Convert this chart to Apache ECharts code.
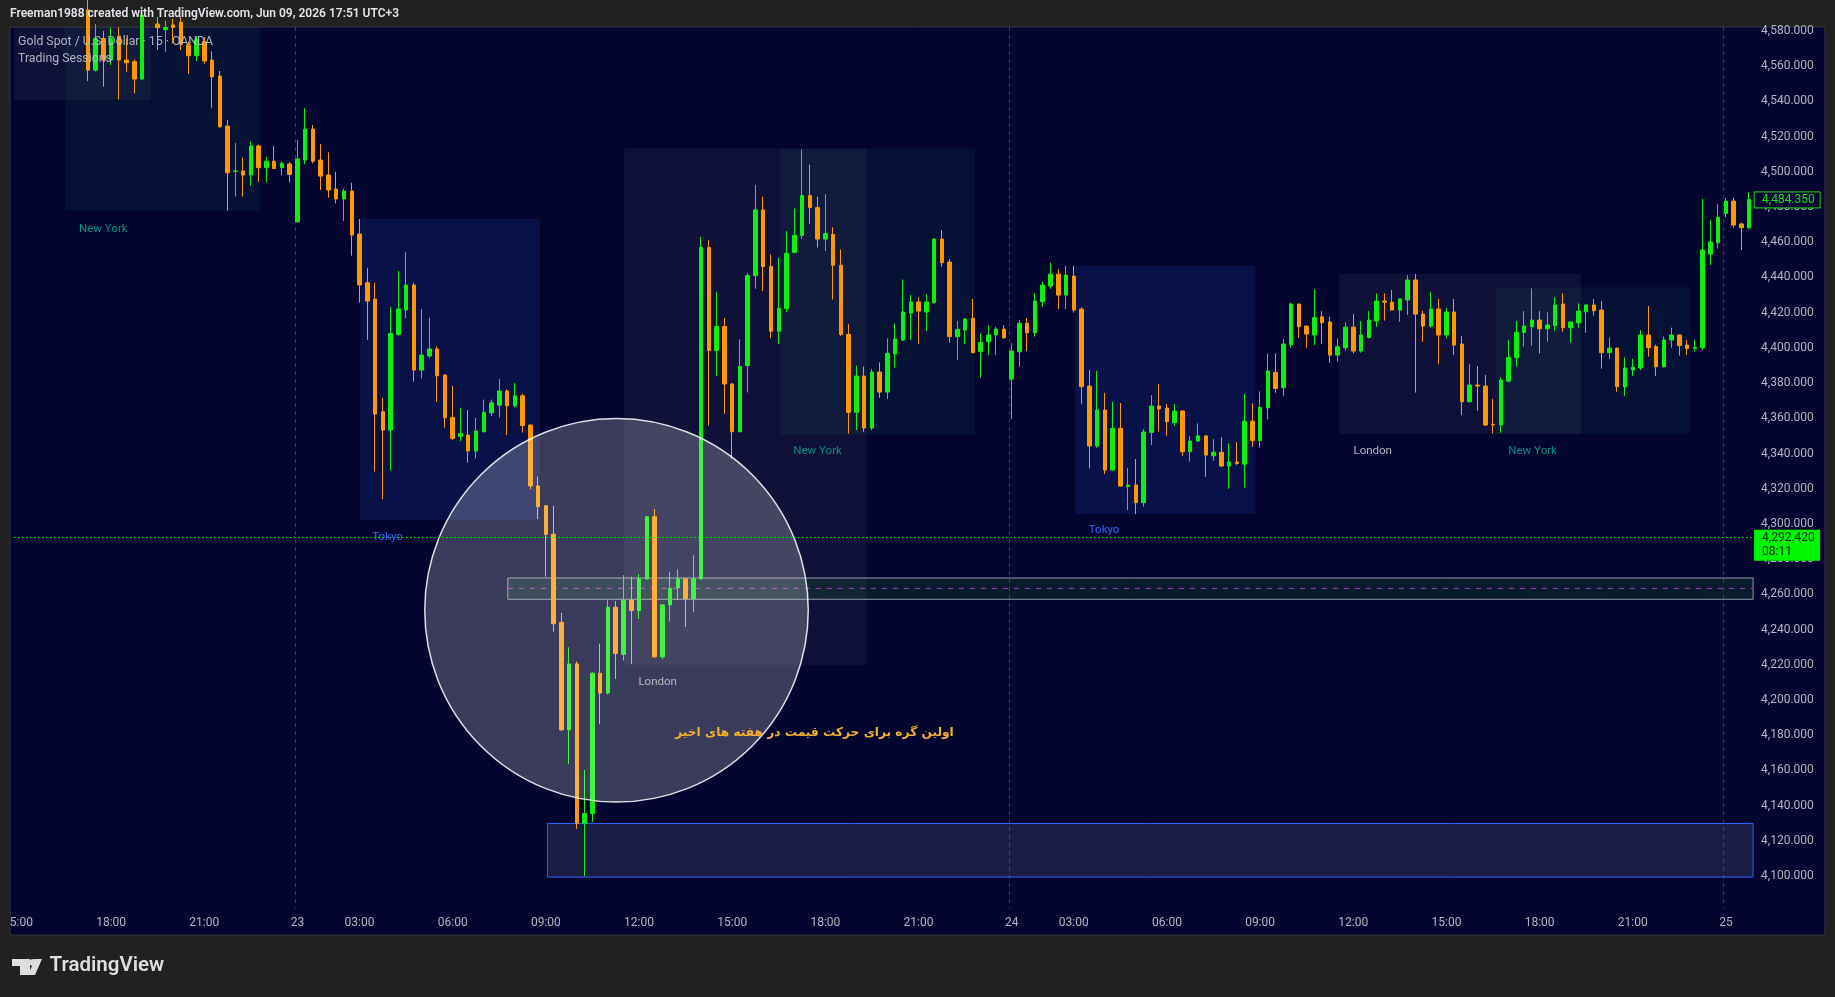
<!DOCTYPE html>
<html><head><meta charset="utf-8">
<script src="https://cdn.jsdelivr.net/npm/echarts@6/dist/echarts.min.js"></script>
<style>html,body{margin:0;padding:0;background:#212121;}#c{width:1835px;height:997px;}</style>
</head><body><div id="c"></div>
<script>
// ---------- DATA ----------
const headerText = 'Freeman1988 created with TradingView.com, Jun 09, 2026 17:51 UTC+3';
const symbolTitle = 'Gold Spot / U.S. Dollar · 15 · OANDA';
const indicatorTitle = 'Trading Sessions';
const annotationText = 'اولین گره برای حرکت قیمت در هفته های اخیر';

// trading days shown (15-minute bars)
const tradingDays = [
  ['22', 15, 23], ['23', 1, 23], ['24', 1, 23], ['25', 1, 1]
];
const tickLabels = {
  '22 15:00':'15:00','22 18:00':'18:00','22 21:00':'21:00',
  '23 01:00':'23','23 03:00':'03:00','23 06:00':'06:00','23 09:00':'09:00','23 12:00':'12:00','23 15:00':'15:00','23 18:00':'18:00','23 21:00':'21:00',
  '24 01:00':'24','24 03:00':'03:00','24 06:00':'06:00','24 09:00':'09:00','24 12:00':'12:00','24 15:00':'15:00','24 18:00':'18:00','24 21:00':'21:00',
  '25 01:00':'25'
};

const opens = [null,null,null,null,null,null,null,null,null,
4592,4557.8,4575.8,4563.5,4577.1,4563.5,4562.6,4552.7,4591,4584.0,4580.8,
4583.5,4585,4572.0,4566.0,4573.9,4563.5,4554.4,4526.0,4500.3,4500.5,
4498.2,4514.7,4502.4,4506.1,4502.4,4504.5,4471.7,4506.7,4524.3,4506.7,
4498.2,4490.2,4484.6,4489.1,4464.7,4437.0,4427.7,4363.7,4353.3,4407.7,
4421.5,4435.7,4387.4,4395.4,4399.4,4384.6,4360.5,4349.8,4350.5,4341.4,
4352.4,4363.1,4367.4,4375.5,4367.1,4372.8,4356.2,4321.6,4310.3,4294.2,
4244.1,4183.0,4220.5,4129.9,4135.5,4215.2,4203.9,4252.7,4225.9,4256.7,
4250.8,4268.8,4304.1,4224.5,4254.0,4263.7,4268.8,4257.5,4268.8,4457.0,
4398.5,4412.2,4379.5,4352.4,4389.9,4441.1,4478.4,4446.2,4409.5,4422.4,
4454.3,4463.9,4486.5,4479.7,4461.8,4464.5,4447.0,4407.6,4363.4,4384.0,
4354.5,4386.3,4374.9,4396.5,4404.5,4419.8,4426.1,4420.4,4425.7,4461.8,
4448.8,4406.4,4410.1,4416.8,4397.9,4403.5,4407.3,4410.7,4382.3,4397.8,
4414.0,4408.6,4426.2,4435.1,4441.9,4430.0,4440.8,4422.1,4378.3,4344.3,
4364.7,4330.6,4354.3,4321.2,4322.1,4312.1,4352.0,4367.0,4365.8,4357.5,
4364.1,4341.0,4347.1,4350.0,4338.7,4340.7,4332.9,4335.2,4334.0,4358.4,
4347.3,4366.0,4386.1,4377.4,4401.8,4424.9,4412.4,4407.3,4417.7,4414.7,
4395.9,4400.1,4411.8,4398.2,4405.9,4415.3,4426.6,4426.0,4421.5,4427.2,
4438.6,4419.2,4412.4,4422.1,4407.3,4420.4,4402.2,4369.4,4378.9,4378.3,
4356.6,4356.2,4381.1,4394.4,4408.8,4412.0,4415.8,4410.9,4412.6,4424.9,
4411.5,4414.3,4420.5,4424.4,4421.5,4397.3,4399.9,4378.0,4387.5,4388.6,
4407.3,4400.7,4389.3,4404.5,4407.3,4401.6,4399.7,4400.1,4453.3,4459.7,
4476.4,4483.4,4470.4,4468.3];

const highs = [null,null,null,null,null,null,null,null,null,
4598,4584,4580,4582,4582,4575.8,4564,4594,4598,4588,4586,
4587,4588,4574,4577.0,4576.5,4568.6,4557.3,4529.4,4516.4,4508.1,
4517.1,4515.5,4508.5,4514.7,4506.0,4505.6,4518.1,4536.1,4526.6,4515.8,
4511.1,4500.1,4490.6,4493.8,4473.2,4445.5,4437.0,4371.7,4423.4,4443.7,
4454.3,4437.0,4422.1,4417.1,4401.0,4385.0,4378.5,4366.0,4364.7,4360.3,
4370.6,4370.6,4382.4,4376.5,4380.0,4374.1,4356.5,4326.9,4310.8,4310.3,
4249.5,4229.9,4221.9,4160.2,4215.7,4232.0,4256.7,4256.2,4270.9,4270.1,
4271.5,4304.4,4308.4,4254.5,4272.8,4274.1,4269.2,4282.2,4463.1,4461.2,
4431.8,4417.0,4380.0,4404.9,4442.5,4492.6,4485.9,4453.0,4451.1,4466.3,
4479.2,4512.7,4504.1,4485.9,4487.3,4468.5,4455.9,4413.5,4389.9,4389.4,
4388.0,4391.8,4405.4,4413.9,4438.9,4430.0,4428.7,4430.6,4462.3,4466.9,
4450.5,4415.3,4416.8,4427.8,4408.2,4413.0,4412.0,4413.0,4402.6,4415.8,
4417.0,4431.0,4437.6,4448.4,4444.8,4446.5,4446.7,4423.0,4387.4,4386.9,
4374.5,4369.2,4368.7,4331.9,4336.9,4353.9,4373.2,4379.5,4368.1,4368.1,
4364.7,4349.9,4357.1,4350.5,4348.2,4349.2,4345.8,4346.5,4373.8,4368.5,
4375.3,4396.9,4396.9,4405.0,4425.7,4425.2,4412.6,4433.4,4420.9,4417.7,
4405.4,4414.5,4419.2,4415.3,4420.9,4431.0,4431.0,4432.9,4428.0,4441.4,
4442.0,4421.1,4431.7,4427.8,4422.8,4427.8,4406.7,4390.8,4389.7,4384.6,
4371.0,4383.3,4404.5,4415.3,4420.9,4433.8,4420.9,4420.2,4428.7,4431.0,
4415.0,4425.3,4424.8,4427.8,4426.6,4406.0,4400.2,4394.6,4393.7,4410.1,
4423.8,4401.8,4406.4,4411.5,4407.6,4404.5,4404.5,4484.6,4472.6,4481.7,
4485.3,4485.3,4471.1,4488.4];

const lows = [null,null,null,null,null,null,null,null,null,
4551.6,4557.0,4548.4,4560.7,4541.2,4556.9,4544.6,4552.0,4586,4569.3,4568.3,
4573.0,4569.2,4555.6,4562.9,4561.3,4536.4,4525.0,4477.9,4486.0,4486.0,
4492.1,4494.4,4493.8,4501.5,4498.0,4494.0,4471.2,4504.3,4504.8,4489.7,
4485.3,4482.1,4472.1,4452.4,4425.7,4404.5,4329.7,4314,4330.3,4406.9,
4416.8,4380.8,4382.7,4394.4,4369.4,4354.6,4347.6,4347.1,4334.8,4337.2,
4351.9,4361.3,4360.5,4350.5,4366.3,4351.9,4319.7,4302.8,4270.1,4238.7,
4182.5,4163.7,4126.7,4099.9,4130.7,4186.2,4203.1,4211.9,4222.4,4220.5,
4246.0,4268.2,4224.0,4223.2,4244.6,4256.7,4241.4,4250.0,4268.2,4355.9,
4384.0,4362.6,4337.0,4352.0,4374.7,4433.6,4432.3,4405.5,4402.3,4420.2,
4453.8,4461.8,4470.4,4457.0,4455.1,4427.5,4406.8,4351.3,4353.2,4352.4,
4353.3,4371.7,4370.9,4388.8,4403.9,4404.5,4402.2,4409.6,4425.2,4446.1,
4402.9,4393.1,4402.2,4397.0,4383.1,4395.9,4395.9,4405.0,4359.6,4389.3,
4398.2,4406.4,4423.4,4433.6,4422.1,4422.1,4420.0,4368.1,4331.6,4343.3,
4328.3,4330.2,4321.2,4307.9,4305.6,4309.8,4344.8,4352.4,4350.0,4355.6,
4338.6,4335.4,4346.8,4326.8,4335.9,4332.5,4320.0,4333.5,4320.6,4343.9,
4343.3,4359.4,4374.5,4372.8,4400.1,4405.8,4400.1,4401.6,4402.2,4391.6,
4392.2,4398.4,4396.9,4397.3,4405.4,4412.0,4415.5,4421.2,4414.9,4418.7,
4374.6,4403.5,4411.5,4390.8,4405.4,4396.0,4361.9,4369.0,4364.3,4355.9,
4351.4,4351.8,4380.8,4389.3,4400.7,4401.3,4396.9,4403.5,4409.8,4409.2,
4403.0,4411.5,4408.6,4418.3,4388.2,4393.9,4375.1,4372.8,4384.2,4387.4,
4395.0,4384.0,4388.8,4400.1,4395.6,4396.0,4397.9,4398.8,4447.1,4456.5,
4474.2,4468.3,4455.6,4467.3];

const closes = [null,null,null,null,null,null,null,null,null,
4557.8,4575.8,4563.5,4575.8,4563.5,4562.0,4552.7,4589,4593,4581.9,4582.0,
4582.0,4572.6,4566.0,4574.9,4563.0,4554.0,4525.6,4499.5,4500.5,4498.2,
4514.7,4502.4,4506.1,4501.9,4504.9,4498.5,4507.3,4524.3,4506.1,4497.6,
4489.7,4484.6,4489.1,4464.1,4435.7,4426.6,4362.4,4353.3,4408.2,4422.1,
4435.7,4387.4,4395.9,4399.4,4384.2,4360.3,4348.6,4351.3,4341.4,4352.8,
4363.4,4368.8,4375.5,4367.1,4372.8,4355.9,4321.6,4309.8,4294.0,4243.3,
4183.0,4220.5,4129.9,4135.5,4215.2,4203.9,4252.7,4226.4,4256.7,4250.8,
4268.8,4304.1,4224.5,4254.0,4263.4,4268.8,4257.5,4268.8,4457.0,4398.5,
4412.2,4379.5,4352.4,4389.4,4441.1,4478.4,4446.2,4409.5,4422.4,4453.7,
4463.9,4486.5,4479.7,4461.8,4465.0,4447.0,4407.6,4363.4,4384.0,4354.5,
4386.3,4374.9,4396.9,4405.0,4420.4,4426.1,4420.9,4426.1,4461.8,4448.4,
4406.4,4410.5,4416.4,4397.3,4403.1,4407.3,4410.7,4405.8,4398.2,4414.0,
4408.6,4426.6,4435.7,4441.9,4430.0,4441.4,4421.5,4378.0,4344.3,4364.7,
4330.6,4354.3,4321.5,4322.1,4312.1,4352.2,4367.0,4365.3,4358.1,4364.1,
4341.0,4347.1,4350.0,4339.1,4340.7,4332.9,4335.2,4334.4,4358.4,4347.3,
4366.2,4386.9,4377.0,4402.2,4424.9,4412.0,4407.9,4417.2,4414.3,4395.9,
4400.7,4411.8,4398.2,4407.3,4415.8,4426.6,4426.0,4421.5,4427.8,4438.6,
4419.2,4412.4,4422.1,4407.3,4420.4,4401.6,4369.4,4378.9,4378.3,4356.2,
4356.2,4381.7,4394.6,4408.8,4412.4,4415.8,4410.9,4413.0,4424.4,4411.5,
4414.7,4420.9,4424.4,4421.1,4397.3,4399.9,4378.0,4388.6,4389.0,4407.3,
4400.1,4389.3,4404.5,4407.3,4401.3,4399.7,4400.3,4455.6,4460.1,4474.2,
4483.4,4469.8,4468.3,4484.35];

// session boxes: [session, fromBar, toBar, high, low]
const sessionBoxes = [
  ['London', -0.95, 17.16, 4600, 4540.8],
  ['New York', 6.04, 31.25, 4600, 4477.9],
  ['Tokyo', 44.1, 67.2, 4473.2, 4302.3],
  ['London', 78.1, 109.3, 4513.3, 4220.0],
  ['New York', 98.1, 123.3, 4513.3, 4350.5],
  ['Tokyo', 136.2, 159.4, 4446.5, 4305.6],
  ['London', 170.2, 201.3, 4442.0, 4351.1],
  ['New York', 190.3, 215.4, 4434.5, 4351.1]
];
// session labels: [text, bar, price]
const sessionLabels = [
  ['New York', 11.0, 4467.5],
  ['Tokyo', 47.6, 4292.6],
  ['London', 82.4, 4210.3],
  ['New York', 103.0, 4341.1],
  ['Tokyo', 139.9, 4296.5],
  ['London', 174.5, 4341.6],
  ['New York', 195.1, 4341.6]
];
const dayBreaks = [35.65, 127.65, 219.65];
const zone = [63.1, 4269.3, 4257.2, 4263.4];      // fromBar, top, bottom, mid line
const demandBox = [68.2, 4129.8, 4099.4];         // fromBar, top, bottom
const circleMark = [77.1, 4250.9, 101.8];         // centerBar, centerPrice, edgeBar
const annotationPos = [102.6, 4181.5];
const lastBarPrice = 4484.35;
const livePrice = 4292.42;
const countdown = '08:11';

// ---------- BUILD ----------
const categories = [];
tradingDays.forEach(([d, h0, h1]) => {
  for (let h = h0; h <= h1; h++) for (let m = 0; m < 60; m += 15)
    categories.push(d + ' ' + String(h).padStart(2,'0') + ':' + String(m).padStart(2,'0'));
});
const N = categories.length;
const candleData = categories.map((c, i) => opens[i] == null ? '-' : [opens[i], closes[i], lows[i], highs[i]]);

const UP = '#0ff00f', DOWN = '#ff9800';
const BG = '#04062f', PAGE = '#212121', AXIS_TXT = '#b2b5be';
const FONT = 'Roboto, "Noto Sans", sans-serif';
const sessionFill = {
  'London': 'rgba(178,181,200,0.065)',
  'New York': 'rgba(38,166,154,0.075)',
  'Tokyo': 'rgba(41,98,255,0.13)'
};
const sessionText = {'London': '#b2b5be', 'New York': '#0f8c82', 'Tokyo': '#2f66f5'};
const fmt = v => v.toLocaleString('en-US', {minimumFractionDigits: 3, maximumFractionDigits: 3});

function clipR(r, cs) {
  return echarts.graphic.clipRectByRect(r, {x: cs.x, y: cs.y, width: cs.width, height: cs.height});
}

const chart = echarts.init(document.getElementById('c'), null, {width: 1835, height: 997});
chart.setOption({
  animation: false,
  backgroundColor: PAGE,
  grid: {left: 13.5, right: 81.9, top: 27, bottom: 85.8, containLabel: false},
  xAxis: [{
    type: 'category', data: categories, boundaryGap: true,
    axisLine: {show: false}, axisTick: {show: false}, splitLine: {show: false},
    axisLabel: {
      interval: (i, v) => tickLabels[v] !== undefined,
      formatter: v => tickLabels[v] || '',
      color: AXIS_TXT, fontSize: 12, fontFamily: FONT, margin: 6
    }
  }, {
    type: 'value', min: -0.5, max: N - 0.5, show: false
  }],
  yAxis: {
    type: 'value', position: 'right', min: 4080, max: 4582.3, interval: 20,
    axisLine: {show: false}, axisTick: {show: false}, splitLine: {show: false},
    axisLabel: {
      margin: 8, color: AXIS_TXT, fontSize: 12, fontFamily: FONT,
      formatter: v => (v >= 4100 && v <= 4580 && Math.abs(v % 20) < 1e-6) ? fmt(v) : ''
    }
  },
  graphic: [
    {type: 'rect', z: -10, silent: true, shape: {x: 10, y: 27, width: 1815, height: 908},
      style: {fill: BG, stroke: '#35373d', lineWidth: 1}},
    {type: 'rect', z: 100, silent: true, shape: {x: 0, y: 880, width: 9.5, height: 60}, style: {fill: PAGE}},
    {type: 'text', z: 100, x: 10, y: 14, style: {text: headerText, fill: '#e1e3e8', font: '600 12px ' + FONT, verticalAlign: 'middle'}},
    {type: 'text', z: 100, x: 18, y: 42, style: {text: symbolTitle, fill: 'rgba(190,194,204,0.9)', font: '12.3px ' + FONT, verticalAlign: 'middle'}},
    {type: 'text', z: 100, x: 18, y: 59, style: {text: indicatorTitle, fill: 'rgba(190,194,204,0.9)', font: '12.3px ' + FONT, verticalAlign: 'middle'}},
    // TradingView logo
    {type: 'polygon', z: 100, shape: {points: [[12,959],[30,959],[30,975],[20,975],[20,966],[12,966]]}, style: {fill: '#dedede'}},
    {type: 'circle', z: 100, shape: {cx: 33, cy: 962.5, r: 3.4}, style: {fill: '#dedede'}},
    {type: 'polygon', z: 100, shape: {points: [[35,959],[42,959],[35,975],[28,975]]}, style: {fill: '#dedede'}},
    {type: 'text', z: 100, x: 49.5, y: 966, style: {text: 'TradingView', fill: '#dedede', font: '600 20.5px ' + FONT, verticalAlign: 'middle'}}
  ],
  series: [
    { // session boxes
      type: 'custom', xAxisIndex: 1, yAxisIndex: 0, z: 1, silent: true,
      data: sessionBoxes.map(b => [b[1], b[2], b[3], b[4]]),
      encode: {x: [0, 1], y: [2, 3]},
      renderItem: (params, api) => {
        const b = sessionBoxes[params.dataIndex];
        const p0 = api.coord([b[1], b[3]]), p1 = api.coord([b[2], b[4]]);
        const shape = clipR({x: p0[0], y: p0[1], width: p1[0] - p0[0], height: p1[1] - p0[1]}, params.coordSys);
        return shape ? {type: 'rect', shape, style: {fill: sessionFill[b[0]]}} : null;
      }
    },
    { // day separators
      type: 'custom', xAxisIndex: 1, yAxisIndex: 0, z: 1, silent: true,
      data: dayBreaks.map(x => [x, 4300]), encode: {x: 0, y: 1},
      renderItem: (params, api) => {
        const cs = params.coordSys, x = Math.round(api.coord([api.value(0), 4300])[0]) + 0.5;
        return {type: 'line', shape: {x1: x, y1: cs.y, x2: x, y2: cs.y + cs.height - 3},
          style: {stroke: 'rgba(120,123,134,0.45)', lineWidth: 1, lineDash: [4, 4]}};
      }
    },
    { // zone + demand box
      type: 'custom', xAxisIndex: 1, yAxisIndex: 0, z: 2, silent: true,
      data: [[zone[0], zone[1]]], encode: {x: 0, y: 1},
      renderItem: (params, api) => {
        const cs = params.coordSys, right = cs.x + cs.width;
        const z0 = api.coord([zone[0], zone[1]]), z1 = api.coord([zone[0], zone[2]]), zm = api.coord([zone[0], zone[3]]);
        const d0 = api.coord([demandBox[0], demandBox[1]]), d1 = api.coord([demandBox[0], demandBox[2]]);
        return {type: 'group', children: [
          {type: 'rect', shape: {x: d0[0], y: d0[1], width: right - d0[0], height: d1[1] - d0[1]},
            style: {fill: 'rgba(120,123,160,0.2)', stroke: '#2962ff', lineWidth: 1}},
          {type: 'rect', shape: {x: z0[0], y: z0[1], width: right - z0[0], height: z1[1] - z0[1]},
            style: {fill: 'rgba(40,180,40,0.13)', stroke: 'rgba(190,192,200,0.75)', lineWidth: 1}},
          {type: 'line', shape: {x1: zm[0], y1: zm[1], x2: right, y2: zm[1]},
            style: {stroke: '#b03ac8', lineWidth: 1, lineDash: [5, 6]}}
        ]};
      }
    },
    {
      type: 'candlestick', xAxisIndex: 0, yAxisIndex: 0, z: 3, clip: true,
      data: candleData, barWidth: 4,
      itemStyle: {color: UP, color0: DOWN, borderColor: UP, borderColor0: DOWN, borderWidth: 1},
      markLine: {
        silent: true, symbol: 'none', label: {show: false},
        lineStyle: {color: '#00ff00', type: [1.5, 2.5], width: 1},
        data: [{yAxis: livePrice}]
      }
    },
    { // circle highlight
      type: 'custom', xAxisIndex: 1, yAxisIndex: 0, z: 4, silent: true,
      data: [[circleMark[0], circleMark[1]]], encode: {x: 0, y: 1},
      renderItem: (params, api) => {
        const c = api.coord([circleMark[0], circleMark[1]]), e = api.coord([circleMark[2], circleMark[1]]);
        return {type: 'circle', shape: {cx: c[0], cy: c[1], r: Math.abs(e[0] - c[0])},
          style: {fill: 'rgba(255,255,255,0.22)', stroke: 'rgba(255,255,255,0.85)', lineWidth: 1.5}};
      }
    },
    { // session labels
      type: 'custom', xAxisIndex: 1, yAxisIndex: 0, z: 5, silent: true,
      data: sessionLabels.map(l => [l[1], l[2]]), encode: {x: 0, y: 1},
      renderItem: (params, api) => {
        const l = sessionLabels[params.dataIndex], p = api.coord([l[1], l[2]]);
        return {type: 'text', x: p[0], y: p[1], style: {text: l[0], fill: sessionText[l[0]], font: '11.5px ' + FONT, align: 'center', verticalAlign: 'middle'}};
      }
    },
    { // annotation text
      type: 'custom', xAxisIndex: 1, yAxisIndex: 0, z: 5, silent: true,
      data: [annotationPos], encode: {x: 0, y: 1},
      renderItem: (params, api) => {
        const p = api.coord(annotationPos);
        return {type: 'text', x: p[0], y: p[1], style: {text: annotationText, fill: '#f2b030', font: 'bold 12.2px "DejaVu Sans", sans-serif', align: 'center', verticalAlign: 'middle'}};
      }
    },
    { // price tags on the scale
      type: 'custom', xAxisIndex: 1, yAxisIndex: 0, z: 6, silent: true, clip: false,
      data: [[0, lastBarPrice], [0, livePrice]], encode: {x: 0, y: 1},
      renderItem: (params, api) => {
        const cs = params.coordSys, x = cs.x + cs.width + 1;
        if (params.dataIndex === 0) {
          const y = api.coord([0, lastBarPrice])[1];
          return {type: 'group', children: [
            {type: 'rect', shape: {x: x, y: y - 7.5, width: 66, height: 16}, style: {fill: BG, stroke: '#19e019', lineWidth: 1}},
            {type: 'text', x: x + 8, y: y + 0.5, style: {text: fmt(lastBarPrice), fill: '#19e019', font: '12px ' + FONT, verticalAlign: 'middle'}}
          ]};
        }
        const y = api.coord([0, livePrice])[1];
        return {type: 'group', children: [
          {type: 'rect', shape: {x: x, y: y - 7.5, width: 66, height: 31}, style: {fill: '#00f500'}},
          {type: 'text', x: x + 8, y: y + 1, style: {text: fmt(livePrice), fill: '#0c2a0c', font: '12px ' + FONT, verticalAlign: 'middle'}},
          {type: 'text', x: x + 8, y: y + 15, style: {text: countdown, fill: '#0c2a0c', font: '12px ' + FONT, verticalAlign: 'middle'}}
        ]};
      }
    }
  ]
});
</script>
</body></html>
